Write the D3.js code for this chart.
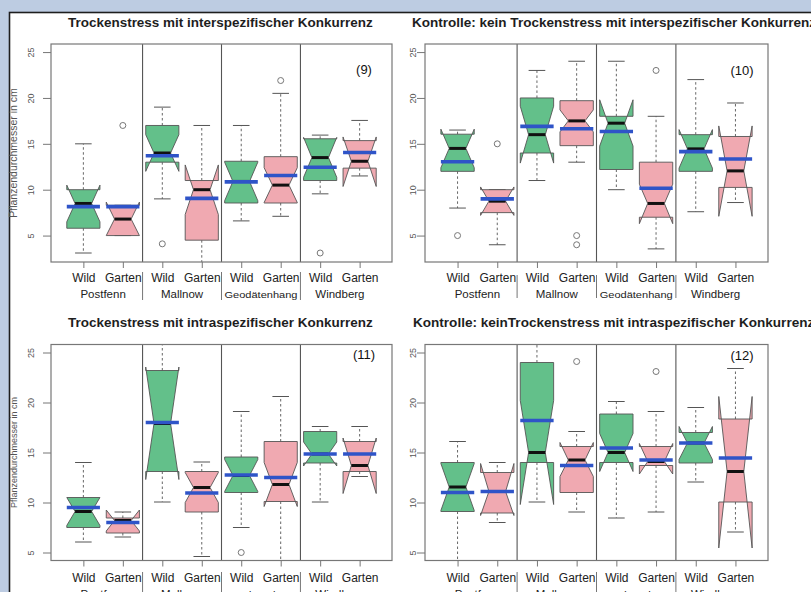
<!DOCTYPE html>
<html><head><meta charset="utf-8">
<script src="https://cdn.jsdelivr.net/npm/d3@7"></script>
<style>body{margin:0;background:#bdcce2;overflow:hidden;} svg{display:block;font-family:"Liberation Sans",Arial,Helvetica,sans-serif;}</style>
</head><body><svg id="c" width="811" height="592"></svg>
<script>
// ---------------- DATA ----------------
const sites = ["Postfenn", "Mallnow", "Geodätenhang", "Windberg"];
const groups = ["Wild", "Garten"];
const panelTitles = [
  "Trockenstress mit interspezifischer Konkurrenz",
  "Kontrolle: kein Trockenstress mit interspezifischer Konkurrenz",
  "Trockenstress mit intraspezifischer Konkurrenz",
  "Kontrolle: keinTrockenstress mit intraspezifischer Konkurrenz"
];
const panelNumbers = ["(9)", "(10)", "(11)", "(12)"];
const yAxisTitle = "Pflanzendurchmesser in cm";
const yTicks = [5, 10, 15, 20, 25];
// order per panel: Postfenn Wild, Postfenn Garten, Mallnow Wild, Mallnow Garten,
// Geodätenhang Wild, Geodätenhang Garten, Windberg Wild, Windberg Garten
const whiskerLow = [
  [3.1, 5.0, 9.0, 1.9, 6.6, 7.1, 9.55, 11.5],
  [8.0, 4.0, 11.0, 13.0, 10.0, 3.55, 7.6, 8.6],
  [6.05, 6.55, 10.05, 4.6, 7.5, 4.0, 10.05, 12.6],
  [4.0, 8.0, 10.05, 9.05, 8.45, 9.05, 12.05, 7.05]
];
const q1 = [
  [5.8, 5.0, 13.0, 4.5, 8.55, 8.55, 11.0, 12.35],
  [12.0, 7.5, 14.0, 14.8, 12.2, 7.0, 12.0, 10.25],
  [7.5, 6.95, 13.1, 9.05, 11.0, 10.1, 13.95, 13.1],
  [9.1, 8.95, 14.0, 11.0, 14.0, 13.7, 13.95, 10.05]
];
const notchLow = [
  [6.5, 5.0, 12.0, 7.3, 8.8, 8.6, 11.35, 10.35],
  [12.4, 7.2, 12.9, 16.3, 14.75, 6.3, 12.35, 7.1],
  [7.7, 7.15, 12.3, 10.0, 11.1, 9.6, 13.65, 10.9],
  [9.2, 8.7, 9.8, 12.6, 13.1, 12.85, 14.3, 5.45]
];
const median = [
  [8.5, 6.8, 14.0, 10.0, 10.9, 10.5, 13.5, 13.1],
  [14.5, 8.75, 16.0, 17.5, 17.25, 8.5, 14.45, 12.05],
  [9.1, 8.2, 17.9, 11.5, 12.7, 11.8, 14.85, 13.7],
  [11.55, 11.1, 15.0, 14.25, 15.0, 14.1, 15.95, 13.1]
];
const notchHigh = [
  [10.5, 8.65, 16.0, 12.7, 13.0, 12.4, 15.7, 15.75],
  [16.6, 10.3, 19.1, 18.7, 19.8, 10.6, 16.55, 16.95],
  [10.5, 9.25, 23.55, 13.0, 14.3, 14.0, 16.05, 16.45],
  [13.9, 13.9, 20.2, 16.0, 16.9, 15.9, 17.6, 20.6]
];
const q3 = [
  [10.0, 8.3, 17.0, 11.0, 13.1, 13.6, 15.55, 15.35],
  [16.05, 10.0, 20.0, 19.7, 18.0, 13.0, 16.0, 15.8],
  [10.5, 8.45, 23.2, 13.1, 14.55, 16.1, 17.1, 16.1],
  [14.0, 13.0, 24.0, 15.6, 18.85, 15.6, 17.0, 18.35]
];
const whiskerHigh = [
  [15.0, 8.3, 19.0, 17.0, 17.0, 20.5, 15.95, 17.55],
  [16.5, 10.0, 23.0, 24.0, 24.0, 18.0, 22.0, 19.45],
  [14.0, 9.05, 26.5, 14.05, 19.1, 20.6, 17.6, 17.6],
  [16.1, 14.0, 26.5, 17.1, 20.1, 19.1, 19.5, 23.4]
];
const mean = [
  [8.15, 8.15, 13.7, 9.05, 10.85, 11.55, 12.45, 14.05],
  [13.05, 9.0, 16.9, 16.65, 16.35, 10.15, 14.15, 13.35],
  [9.5, 8.0, 18.0, 10.95, 12.75, 12.5, 14.85, 14.85],
  [11.0, 11.1, 18.2, 13.7, 15.45, 14.25, 15.95, 14.45]
];
const outliers = [
  [[], [17.0], [4.1], [], [], [21.9], [3.1], []],
  [[5.0], [15.0], [], [5.0, 4.0], [], [23.0], [], []],
  [[], [], [], [], [5.0], [], [], []],
  [[], [], [], [24.1], [], [23.1], [], []]
];

// ---------------- LAYOUT ----------------
const FONT = '"Liberation Sans",Arial,Helvetica,sans-serif';
const panels = [
  {x0:51, x1:392, y0:44, y1:262, ydom:[2.12,25.88], title:{x:68, y:27, w:305, cut:0}, tickX:31, ylab:{x:17, size:10.5}, num:{x:364, y:74}, lab1:282, lab2:298, div:[272,300]},
  {x0:425, x1:768, y0:44, y1:262, ydom:[2.12,25.88], title:{x:412, y:27, w:398, cut:1}, tickX:413, ylab:null, num:{x:742, y:75}, lab1:282, lab2:298, div:[275,298]},
  {x0:51, x1:392, y0:344.5, y1:560.5, ydom:[4.2,25.8], title:{x:68, y:327, w:305, cut:0}, tickX:31, ylab:{x:17, size:9}, num:{x:364, y:359}, lab1:582, lab2:598, div:[572,592]},
  {x0:425, x1:768, y0:344.5, y1:560.5, ydom:[4.2,25.8], title:{x:413, y:327, w:395, cut:1}, tickX:413, ylab:null, num:{x:742, y:360}, lab1:582, lab2:598, div:[572,592]}
];
const fillColors = ["#63c08a", "#f0a9b1"];
const BW = 0.84;

const svg = d3.select("#c");
svg.append("rect").attr("x",9.5).attr("y",12.5).attr("width",900).attr("height",700)
  .attr("fill","#ffffff").attr("stroke","#1e1e1e").attr("stroke-width",1.6);

function fitText(sel, target, base) {
  sel.attr("font-size", base);
  const len = sel.node().getComputedTextLength();
  sel.attr("font-size", base * target / len);
}

panels.forEach((P, pi) => {
  const xs = d3.scaleLinear().domain([0.18, 8.82]).range([P.x0, P.x1]);
  const ys = d3.scaleLinear().domain(P.ydom).range([P.y1, P.y0]);
  const g = svg.append("g");
  const clipId = "clip" + pi;
  svg.append("clipPath").attr("id", clipId).append("rect")
    .attr("x", P.x0).attr("y", P.y0).attr("width", P.x1 - P.x0).attr("height", P.y1 - P.y0);
  const inner = g.append("g").attr("clip-path", `url(#${clipId})`);

  // title
  const full = panelTitles[pi];
  const t = g.append("text").attr("x", P.title.x).attr("y", P.title.y)
    .attr("font-weight", "bold").attr("fill", "#1e1e1e").attr("font-family", FONT)
    .text(P.title.cut ? full.slice(0, -1) : full);
  fitText(t, P.title.w, 11);
  t.text(full);

  // dividers
  [2.5, 4.5, 6.5].forEach(d => {
    g.append("line").attr("x1", xs(d)).attr("x2", xs(d)).attr("y1", P.y0).attr("y2", P.y1)
      .attr("stroke", "#555").attr("stroke-width", 1.1);
    g.append("line").attr("x1", xs(d)).attr("x2", xs(d)).attr("y1", P.div[0]).attr("y2", P.div[1])
      .attr("stroke", "#666").attr("stroke-width", 0.9);
  });

  const pos = d3.range(1, 9);
  const hw = (xs(1 + BW / 2) - xs(1 - BW / 2)) / 2;
  pos.forEach((p, i) => {
    const cx = xs(p);
    // whiskers
    [[q1[pi][i], whiskerLow[pi][i]], [q3[pi][i], whiskerHigh[pi][i]]].forEach(([a, b]) => {
      inner.append("line").attr("x1", cx).attr("x2", cx).attr("y1", ys(a)).attr("y2", ys(b))
        .attr("stroke", "#666").attr("stroke-width", 1).attr("stroke-dasharray", "2.5,2.5");
      inner.append("line").attr("x1", cx - hw / 2).attr("x2", cx + hw / 2).attr("y1", ys(b)).attr("y2", ys(b))
        .attr("stroke", "#555").attr("stroke-width", 1);
    });
    // notched box (R bxp polygon)
    const nf = 0.5;
    const pts = [
      [cx - hw, q1[pi][i]], [cx + hw, q1[pi][i]], [cx + hw, notchLow[pi][i]], [cx + hw * nf, median[pi][i]],
      [cx + hw, notchHigh[pi][i]], [cx + hw, q3[pi][i]], [cx - hw, q3[pi][i]], [cx - hw, notchHigh[pi][i]],
      [cx - hw * nf, median[pi][i]], [cx - hw, notchLow[pi][i]]
    ].map(([x, v]) => [x, ys(v)]);
    inner.append("polygon").attr("points", pts.map(d => d.join(",")).join(" "))
      .attr("fill", fillColors[i % 2]).attr("stroke", "#555").attr("stroke-width", 0.9);
    // median
    inner.append("line").attr("x1", cx - hw * nf).attr("x2", cx + hw * nf)
      .attr("y1", ys(median[pi][i])).attr("y2", ys(median[pi][i]))
      .attr("stroke", "#111").attr("stroke-width", 3);
    // mean
    inner.append("line").attr("x1", cx - hw).attr("x2", cx + hw)
      .attr("y1", ys(mean[pi][i])).attr("y2", ys(mean[pi][i]))
      .attr("stroke", "#2f54c8").attr("stroke-width", 3.6);
    // outliers
    outliers[pi][i].forEach(v => {
      inner.append("circle").attr("cx", cx).attr("cy", ys(v)).attr("r", 3)
        .attr("fill", "none").attr("stroke", "#777").attr("stroke-width", 1);
    });
  });

  // frame
  g.append("rect").attr("x", P.x0).attr("y", P.y0).attr("width", P.x1 - P.x0).attr("height", P.y1 - P.y0)
    .attr("fill", "none").attr("stroke", "#777").attr("stroke-width", 1.2);

  // y axis
  const ya = g.append("g").attr("transform", `translate(${P.x0},0)`)
    .call(d3.axisLeft(ys).tickValues(yTicks).tickSize(8).tickSizeOuter(0));
  ya.select(".domain").remove();
  ya.selectAll(".tick line").attr("stroke", "#777");
  ya.selectAll(".tick text").attr("transform", "rotate(-90)")
    .attr("x", 0).attr("y", P.tickX - P.x0).attr("dy", "0.35em")
    .attr("text-anchor", "middle").attr("font-size", 9).attr("fill", "#555").attr("font-family", FONT);

  // x axis
  const xa = g.append("g").attr("transform", `translate(0,${P.y1})`)
    .call(d3.axisBottom(xs).tickValues(pos).tickSize(6).tickSizeOuter(0)
      .tickFormat(d => groups[(d - 1) % 2]));
  xa.select(".domain").remove();
  xa.selectAll(".tick line").attr("stroke", "#777");
  xa.selectAll(".tick text").attr("y", P.lab1 - P.y1).attr("dy", 0)
    .attr("font-size", 12).attr("fill", "#222").attr("font-family", FONT);

  sites.forEach((s, k) => {
    const tx = g.append("text").attr("x", xs(2 * k + 1.5)).attr("y", P.lab2)
      .attr("text-anchor", "middle").attr("fill", "#222").attr("font-family", FONT).text(s);
    if (s === "Geodätenhang") tx.attr("font-size", 9).attr("textLength", 73).attr("lengthAdjust", "spacingAndGlyphs");
    else tx.attr("font-size", 11.5);
  });

  // y title
  if (P.ylab) {
    g.append("text").attr("transform", `translate(${P.ylab.x},${(P.y0 + P.y1) / 2}) rotate(-90)`)
      .attr("text-anchor", "middle").attr("font-size", P.ylab.size).attr("fill", "#555")
      .attr("font-family", FONT).text(yAxisTitle);
  }

  // panel number
  g.append("text").attr("x", P.num.x).attr("y", P.num.y).attr("text-anchor", "middle")
    .attr("font-size", 13).attr("fill", "#111").attr("font-family", FONT).text(panelNumbers[pi]);
});
</script>
</body></html>
